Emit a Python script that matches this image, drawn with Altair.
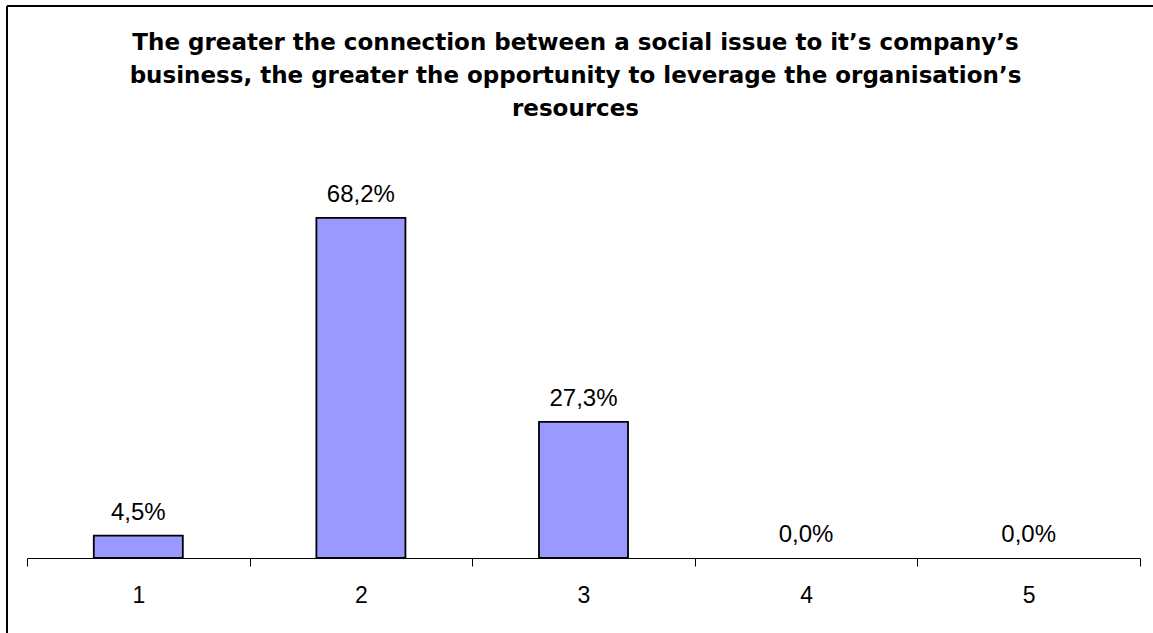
import altair as alt
import pandas as pd

categories = ["1", "2", "3", "4", "5"]
values = [4.5, 68.2, 27.3, 0.0, 0.0]
title_lines = [
    "The greater the connection between a social issue to it\u2019s company\u2019s",
    "business, the greater the opportunity to leverage the organisation\u2019s",
    "resources",
]

df = pd.DataFrame({"cat": categories, "v": values})

x_enc = alt.X(
    "cat:N",
    sort=categories,
    scale=alt.Scale(paddingInner=0, paddingOuter=0),
    axis=alt.Axis(
        title=None,
        labelAngle=0,
        labelFont="Liberation Sans",
        labelFontSize=23,
        labelColor="black",
        labelPadding=18,
        tickSize=8,
        tickColor="black",
        tickWidth=1,
        domainColor="black",
        domainWidth=1,
        tickBand="extent",
        grid=False,
    ),
)
y_enc = alt.Y("v:Q", scale=alt.Scale(domain=[0, 80]), axis=None)

base = alt.Chart(df).transform_calculate(
    label="replace(format(datum.v, '.1f'), '.', ',') + '%'"
)

bars = base.transform_filter("datum.v > 0").mark_bar(
    color="#9999FF", stroke="black", strokeWidth=1.8,
    width=alt.RelativeBandSize(0.4),
).encode(x=x_enc, y=y_enc)

labels = base.mark_text(
    baseline="alphabetic", dy=-16, font="Liberation Sans", fontSize=24, color="black"
).encode(x=x_enc, y=y_enc, text="label:N")

one = alt.Data(values=[{"a": 1}])

title = alt.Chart(one).mark_text(
    text=title_lines,
    align="center",
    baseline="alphabetic",
    lineHeight=33,
    font="DejaVu Sans",
    fontWeight="bold",
    fontSize=23,
    color="black",
).encode(x=alt.value(548.5), y=alt.value(-109))

border_top = alt.Chart(one).mark_rule(color="black", strokeWidth=2).encode(
    x=alt.value(-20), x2=alt.value(1300), y=alt.value(-153)
)
border_left = alt.Chart(one).mark_rule(color="black", strokeWidth=2).encode(
    x=alt.value(-20), y=alt.value(-153), y2=alt.value(700)
)

chart = alt.layer(bars, labels, title, border_top, border_left).properties(
    width=1113,
    height=399,
    autosize=alt.AutoSizeParams(type="none"),
    padding={"left": 27, "top": 159, "right": 13, "bottom": 75},
    background="white",
).configure_view(stroke=None)

chart.save("out.html", embed_options={"renderer": "svg", "actions": False})
